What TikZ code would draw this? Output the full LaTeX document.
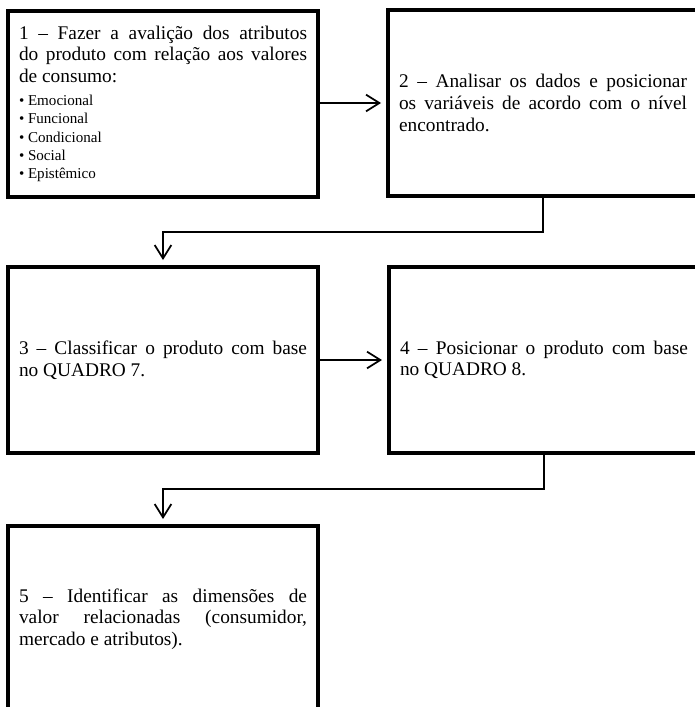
\documentclass[tikz,border=0pt]{standalone}
\usepackage{fontspec}
\setmainfont{Liberation Serif}
\usetikzlibrary{arrows.meta}
% text settings for the step boxes: forced line breaks, no hyphenation
\newcommand\stepfont{\fontsize{14.5}{16.2}\selectfont\tolerance=10000\hyphenpenalty=10000\parindent=0pt\parskip=0pt}
\newcommand\listfont{\fontsize{11.3}{13.8}\selectfont}
\begin{document}
\begin{tikzpicture}[x=0.75pt,y=-0.75pt,
  stepbox/.style={draw=black, line width=3pt, minimum width=232.5pt, minimum height=139.5pt,
    text width=216pt, align=justify, inner sep=0pt, font=\stepfont},
  flow/.style={draw=black, line width=1.3pt, -{Straight Barb[length=10pt,width=12.5pt]}, shorten >=3.75pt}
]
\useasboundingbox (0,0) rectangle (695,707);
\clip (0,0) rectangle (695,707);

\node[stepbox] (b1) at (163,104) {1 – Fazer a avalição dos atributos\linebreak
  do produto com relação aos valores\linebreak de consumo:\par
  \vspace{3.2pt}
  {\listfont \textbullet\ Emocional\par
  \textbullet\ Funcional\par
  \textbullet\ Condicional\par
  \textbullet\ Social\par
  \textbullet\ Epistêmico\par}};

\node[stepbox] (b2) at (543,103) {2 – Analisar os dados e posicionar\linebreak
  os variáveis de acordo com o nível\linebreak encontrado.};

\node[stepbox] (b3) at (163,360) {3 – Classificar o produto com base\linebreak no QUADRO 7.};

\node[stepbox] (b4) at (544,360) {4 – Posicionar o produto com base\linebreak no QUADRO 8.};

\node[stepbox] (b5) at (163,619) {5 – Identificar as dimensões de\linebreak
  valor relacionadas (consumidor,\linebreak mercado e atributos).};

% elbow heights of the downward connectors
\coordinate (k23) at (0,232);
\coordinate (k45) at (0,489);

\draw[flow] (b1.east |- b2.west) -- (b2.west);
\draw[flow] (b2.south) -- (b2.south |- k23) -| (b3.north);
\draw[flow] (b3.east) -- (b4.west);
\draw[flow] (b4.south) -- (b4.south |- k45) -| (b5.north);
\end{tikzpicture}
\end{document}
